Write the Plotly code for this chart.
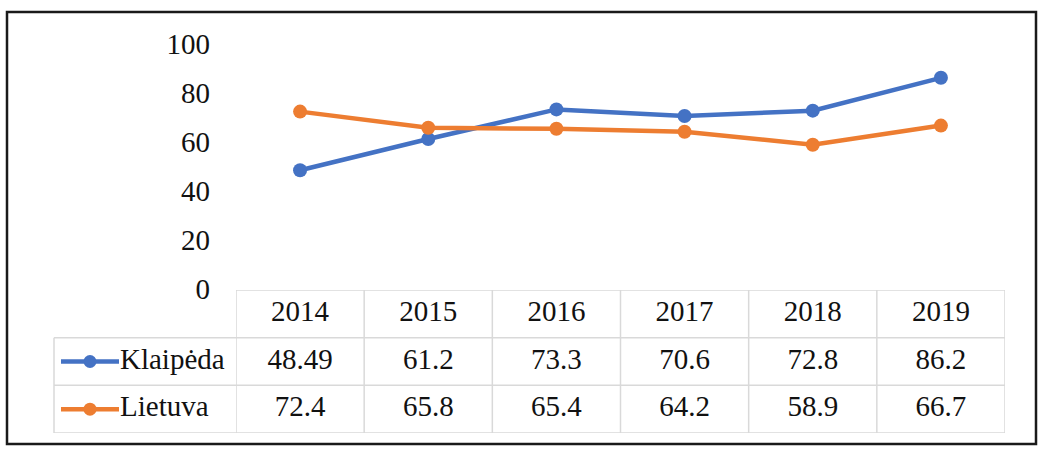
import plotly.graph_objects as go

years = ["2014", "2015", "2016", "2017", "2018", "2019"]
klaipeda = [48.49, 61.2, 73.3, 70.6, 72.8, 86.2]
lietuva = [72.4, 65.8, 65.4, 64.2, 58.9, 66.7]
klaipeda_labels = ["48.49", "61.2", "73.3", "70.6", "72.8", "86.2"]
lietuva_labels = ["72.4", "65.8", "65.4", "64.2", "58.9", "66.7"]
series_names = ["Klaipėda", "Lietuva"]
y_ticks = [0, 20, 40, 60, 80, 100]

W, H = 1042, 452
BLUE = "#4472C4"
ORANGE = "#ED7D31"
GRID = "#d9d9d9"
FONT = "Liberation Serif"
FS = 29
TXT = "#111111"

def py(px):
    return 1 - px / H

def pxx(px):
    return px / W

x_left, x_right = 236, 1005
y_zero, y_top = 289, 44
r_top, r3 = 290, 433
leg_left = 54
n = len(years)

fig = go.Figure()
# lines
for name, vals, col in [(series_names[0], klaipeda, BLUE), (series_names[1], lietuva, ORANGE)]:
    fig.add_trace(go.Scatter(
        x=list(range(n)), y=vals, name=name, mode="lines+markers",
        line=dict(color=col, width=4.5), marker=dict(color=col, size=14),
        showlegend=False, hoverinfo="skip", cliponaxis=False))

# table text (rows on yaxis2: 0 header, 1 Klaipeda, 2 Lietuva)
for r, labels in enumerate([years, klaipeda_labels, lietuva_labels]):
    fig.add_trace(go.Scatter(
        x=list(range(n)), y=[r] * n, mode="text", text=labels, textposition="middle center",
        textfont=dict(family=FONT, size=FS, color=TXT), xaxis="x", yaxis="y2",
        showlegend=False, hoverinfo="skip", cliponaxis=False))

# legend keys (xaxis2 in pixels across the legend column)
for r, (name, col) in enumerate([(series_names[0], BLUE), (series_names[1], ORANGE)], start=1):
    fig.add_trace(go.Scatter(
        x=[7, 65], y=[r, r], mode="lines", line=dict(color=col, width=4.5),
        xaxis="x2", yaxis="y2", showlegend=False, hoverinfo="skip", cliponaxis=False))
    fig.add_trace(go.Scatter(
        x=[36], y=[r], mode="markers", marker=dict(color=col, size=13),
        xaxis="x2", yaxis="y2", showlegend=False, hoverinfo="skip", cliponaxis=False))
    fig.add_trace(go.Scatter(
        x=[66], y=[r], mode="text", text=[name], textposition="middle right",
        textfont=dict(family=FONT, size=FS, color=TXT),
        xaxis="x2", yaxis="y2", showlegend=False, hoverinfo="skip", cliponaxis=False))

shapes = []
# outer border
shapes.append(dict(type="rect", xref="paper", yref="paper",
                   x0=pxx(7), x1=pxx(1036), y0=py(444), y1=py(12),
                   line=dict(color="#1a1a1a", width=2.5), layer="above"))
# table grid: horizontal lines
shapes.append(dict(type="line", xref="x", yref="y2", x0=-0.5, x1=n - 0.5, y0=-0.5, y1=-0.5,
                   line=dict(color=GRID, width=1.5), layer="below"))
for yy in [0.5, 1.5, 2.5]:
    shapes.append(dict(type="line", xref="paper", yref="y2", x0=pxx(leg_left), x1=pxx(x_right),
                       y0=yy, y1=yy, line=dict(color=GRID, width=1.5), layer="below"))
# vertical lines
for i in range(n + 1):
    shapes.append(dict(type="line", xref="x", yref="y2", x0=i - 0.5, x1=i - 0.5,
                       y0=-0.5, y1=2.5, line=dict(color=GRID, width=1.5), layer="below"))
shapes.append(dict(type="line", xref="paper", yref="y2", x0=pxx(leg_left), x1=pxx(leg_left),
                   y0=0.5, y1=2.5, line=dict(color=GRID, width=1.5), layer="below"))

hidden = dict(showticklabels=False, showgrid=False, zeroline=False, showline=False, ticks="",
              automargin=False, fixedrange=True)

fig.update_layout(
    template="none",
    width=W, height=H, margin=dict(l=0, r=0, t=0, b=0, pad=0, autoexpand=False),
    paper_bgcolor="white", plot_bgcolor="rgba(0,0,0,0)",
    font=dict(family=FONT, size=FS, color=TXT),
    shapes=shapes,
    xaxis=dict(domain=[pxx(x_left), pxx(x_right)], range=[-0.5, n - 0.5], anchor="y", **hidden),
    yaxis=dict(domain=[py(y_zero), py(y_top)], range=[0, 100], tickvals=y_ticks, automargin=False,
               showgrid=False, zeroline=False, showline=False, ticks="", anchor="x",
               ticklabelstandoff=25, fixedrange=True,
               tickfont=dict(family=FONT, size=FS, color=TXT)),
    xaxis2=dict(domain=[pxx(leg_left), pxx(x_left)], range=[0, x_left - leg_left], anchor="y2", **hidden),
    yaxis2=dict(domain=[py(r3), py(r_top)], range=[2.5, -0.5], anchor="x", **hidden),
)

fig.write_html("out.html", config={"displayModeBar": False, "staticPlot": True},
               post_script="document.body.style.margin='0px';")
